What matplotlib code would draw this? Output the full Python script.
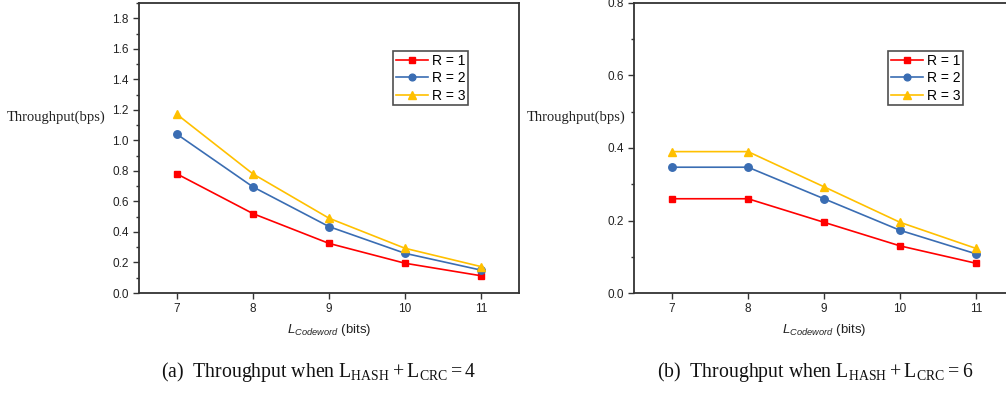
import matplotlib
matplotlib.use("Agg")
import matplotlib.pyplot as plt
from matplotlib.ticker import MultipleLocator, FormatStrFormatter

# Codeword length (bits)
codeword_bits = [7, 8, 9, 10, 11]

# Throughput when L_HASH + L_CRC = 4
tp4_r1 = [0.78, 0.52, 0.325, 0.195, 0.113]
tp4_r2 = [1.04, 0.695, 0.435, 0.26, 0.15]
tp4_r3 = [1.17, 0.78, 0.49, 0.293, 0.173]

# Throughput when L_HASH + L_CRC = 6
tp6_r1 = [0.26, 0.26, 0.195, 0.13, 0.082]
tp6_r2 = [0.347, 0.347, 0.26, 0.173, 0.108]
tp6_r3 = [0.39, 0.39, 0.293, 0.195, 0.123]

series_labels = ["R = 1", "R = 2", "R = 3"]
colors = ["#FF0000", "#3A6DB3", "#FFC000"]
markers = ["s", "o", "^"]
msizes = [4.8, 5.4, 5.8]

captions = [r"(a)  Throughput when $\mathregular{L_{HASH}+L_{CRC}=4}$",
            r"(b)  Throughput when $\mathregular{L_{HASH}+L_{CRC}=6}$"]

plt.rcParams["font.family"] = ["Liberation Sans", "DejaVu Sans"]
plt.rcParams["mathtext.fontset"] = "custom"
plt.rcParams["mathtext.rm"] = "Liberation Serif"
plt.rcParams["mathtext.it"] = "Liberation Sans:italic"

W, H = 1006, 393
fig = plt.figure(figsize=(W / 100, H / 100), dpi=100)
fig.patch.set_facecolor("white")

panels = [
    dict(left=139, data=[tp4_r1, tp4_r2, tp4_r3], ymax=1.9, major=0.2,
         ylab_x=7, cap_x=319),
    dict(left=634, data=[tp6_r1, tp6_r2, tp6_r3], ymax=0.8, major=0.2,
         ylab_x=527, cap_x=815),
]

ax_top, ax_bottom, ax_w = 3, 293, 380
spine_col = "#333333"

for p, cap in zip(panels, captions):
    ax = fig.add_axes([p["left"] / W, 1 - ax_bottom / H, ax_w / W,
                       (ax_bottom - ax_top) / H])
    for vals, lab, c, m, ms in zip(p["data"], series_labels, colors, markers, msizes):
        ax.plot(codeword_bits, vals, color=c, marker=m, markersize=ms,
                linewidth=1.2, label=lab)
    ax.set_xlim(6.5, 11.5)
    ax.set_ylim(0, p["ymax"])
    ax.set_xticks(codeword_bits)
    ax.yaxis.set_major_locator(MultipleLocator(p["major"]))
    ax.yaxis.set_minor_locator(MultipleLocator(p["major"] / 2))
    ax.yaxis.set_major_formatter(FormatStrFormatter("%.1f"))
    ax.tick_params(axis="both", which="major", direction="out", length=4,
                   width=1, labelsize=8.5, colors=spine_col, labelcolor="#222222")
    ax.tick_params(axis="y", which="minor", direction="out", length=2.5,
                   width=1, colors=spine_col)
    for s in ax.spines.values():
        s.set_color(spine_col)
        s.set_linewidth(1.3)
    ax.set_xlabel(r"$\mathit{L}_{\mathit{Codeword}}$ (bits)", fontsize=9.5,
                  labelpad=5, color="#222222")

    leg = ax.legend(loc="upper left", bbox_to_anchor=(0.668, 0.835),
                    fontsize=10, frameon=True, fancybox=False,
                    edgecolor="#222222", borderpad=0.2, labelspacing=0.25,
                    handlelength=2.3, handletextpad=0.3, borderaxespad=0,
                    markerscale=0.9)
    leg.get_frame().set_linewidth(1.2)

    fig.text(p["ylab_x"] / W, 1 - 117 / H, "Throughput(bps)",
             family="Liberation Serif", fontsize=10.5, ha="left", va="center",
             color="#222222")
    fig.text(p["cap_x"] / W, 1 - 372 / H, cap, family="Liberation Serif",
             fontsize=14.2, ha="center", va="center", color="#111111")

fig.savefig("out.png", dpi=100)
